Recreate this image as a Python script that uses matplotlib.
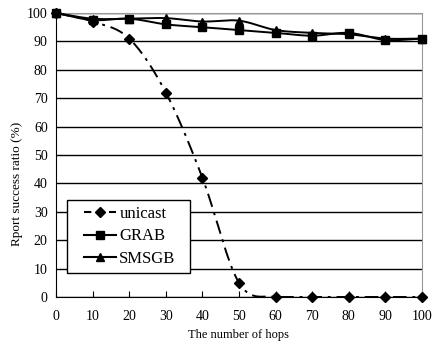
import numpy as np
import matplotlib
matplotlib.use('Agg')
import matplotlib.pyplot as plt
from matplotlib.patches import Rectangle

hops = [0, 10, 20, 30, 40, 50, 60, 70, 80, 90, 100]
unicast = [100, 97, 91, 72, 42, 5, 0, 0, 0, 0, 0]
grab = [100, 97.5, 98, 96, 95, 94, 93, 92, 93, 90.5, 91]
smsgb = [100, 98, 98, 98.2, 97, 97.3, 94, 93, 92.5, 91, 91]


def smooth(x, y, n=20):
    # Catmull-Rom spline through the points (like a spreadsheet "smoothed line")
    x = np.asarray(x, float)
    y = np.asarray(y, float)
    px = np.concatenate([[2 * x[0] - x[1]], x, [2 * x[-1] - x[-2]]])
    py = np.concatenate([[2 * y[0] - y[1]], y, [2 * y[-1] - y[-2]]])
    xs, ys = [], []
    t = np.linspace(0, 1, n, endpoint=False)
    for i in range(1, len(px) - 2):
        for p, out in ((px, xs), (py, ys)):
            p0, p1, p2, p3 = p[i - 1], p[i], p[i + 1], p[i + 2]
            out.extend(0.5 * (2 * p1 + (-p0 + p2) * t
                              + (2 * p0 - 5 * p1 + 4 * p2 - p3) * t ** 2
                              + (-p0 + 3 * p1 - 3 * p2 + p3) * t ** 3))
    xs.append(x[-1])
    ys.append(y[-1])
    return np.array(xs), np.array(ys)


plt.rcParams['font.family'] = ['Liberation Serif', 'DejaVu Serif']

W, H = 432, 347
fig = plt.figure(figsize=(W / 100, H / 100), dpi=100)
ax = fig.add_axes([56 / W, 50 / H, 366 / W, 284 / H])

series = [
    (unicast, 'D', (0, (7, 3, 1.5, 3)), 'unicast'),
    (grab, 's', '-', 'GRAB'),
    (smsgb, '^', '-', 'SMSGB'),
]
handles = []
for vals, mk, ls, name in series:
    sx, sy = smooth(hops, vals)
    if name == 'unicast':
        sy = np.maximum(sy, 0)
    ax.plot(sx, sy, color='black', lw=1.4, ls=ls, zorder=3)
    ax.plot(hops, vals, ls='none', marker=mk, color='black', ms=5.5, zorder=4,
            clip_on=False)
    h, = ax.plot([], [], color='black', lw=1.5,
                 ls=(0, (3.5, 2.5)) if name == 'unicast' else '-',
                 marker=mk, ms=5 if mk == 'D' else 6)
    handles.append(h)

ax.set_xlim(0, 100)
ax.set_ylim(0, 100)
ax.set_xticks(hops)
ax.set_yticks(range(0, 101, 10))
ax.yaxis.grid(True, color='black', lw=1)
ax.set_axisbelow(True)
ax.tick_params(axis='x', direction='in', length=4, labelsize=10, pad=9)
ax.tick_params(axis='y', length=0, labelsize=10, pad=6)
for s in ('top', 'right'):
    ax.spines[s].set_color('#999999')
ax.spines['left'].set_color('black')
ax.spines['bottom'].set_color('black')

ax.set_xlabel('The number of hops', fontsize=9, labelpad=5)
ax.set_ylabel('Rport success ratio (%)', fontsize=9.5)
ax.yaxis.set_label_coords(-0.09, 0.40)

# legend box drawn as a plain rectangle, entries placed inside it
box = Rectangle((67 / W, 1 - 273 / H), 123 / W, 73 / H, transform=fig.transFigure,
                facecolor='white', edgecolor='black', lw=1, zorder=5,
                clip_on=False)
ax.add_artist(box)
leg = ax.legend(handles, ['unicast', 'GRAB', 'SMSGB'], loc='center',
                bbox_to_anchor=((67 + 63) / W, 1 - 236.5 / H),
                bbox_transform=fig.transFigure, fontsize=12, frameon=False,
                handlelength=1.9, handletextpad=0.2, borderpad=0.2,
                labelspacing=0.4)
leg.set_zorder(6)

fig.savefig('out.png', dpi=100)
